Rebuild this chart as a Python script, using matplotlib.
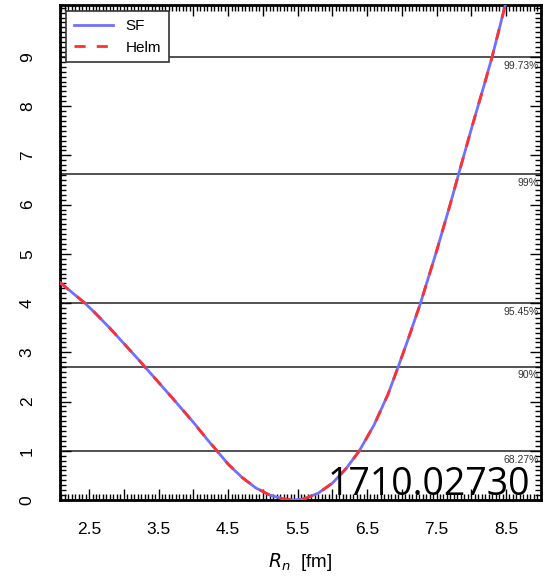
import matplotlib
matplotlib.use("Agg")
import matplotlib.pyplot as plt
from matplotlib.ticker import MultipleLocator, FixedLocator

plt.rcParams['font.family'] = ['Liberation Sans', 'DejaVu Sans']

# chi^2 curve
rn = [2.08, 2.2, 2.44, 2.6, 2.8, 3.0, 3.2, 3.3, 3.5, 3.7, 3.81, 4.0, 4.2, 4.34,
      4.5, 4.7, 4.9, 5.1, 5.3, 5.45, 5.6, 5.8, 6.0, 6.2, 6.39, 6.6, 6.8, 6.95,
      7.1, 7.27, 7.5, 7.7, 7.82, 8.0, 8.2, 8.3, 8.48, 8.6]
chi2_sf = [4.42, 4.28, 4.00, 3.78, 3.49, 3.18, 2.87, 2.71, 2.39, 2.07, 1.89, 1.58,
           1.23, 1.00, 0.73, 0.46, 0.245, 0.10, 0.02, 0.0, 0.025, 0.14, 0.34, 0.64,
           1.00, 1.52, 2.14, 2.71, 3.30, 4.00, 5.05, 6.02, 6.63, 7.53, 8.50, 9.00,
           10.0, 10.7]
chi2_helm = list(chi2_sf)

# confidence levels for 1 dof
levels = [1.0, 2.71, 4.0, 6.63, 9.0]
level_labels = ["68.27%", "90%", "95.45%", "99%", "99.73%"]

xtick_pos = [2.5 + 0.5 * i for i in range(14)]
xtick_lab = ["2.5", "", "3.5", "", "4.5", "", "5.5", "", "6.5", "", "7.5", "", "8.5", ""]
yticks = [0, 1, 2, 3, 4, 5, 6, 7, 8, 9]

fig = plt.figure(figsize=(5.49, 5.78), dpi=100)
ax = fig.add_axes([0.109, 0.135, 0.876, 0.856])

for lv, lab in zip(levels, level_labels):
    ax.axhline(lv, color="#333333", lw=1.2, zorder=1)
    ax.text(8.97, lv - 0.08, lab, ha="right", va="top", fontsize=7.5, color="#333333")

ax.plot(rn, chi2_sf, color="#7070ff", lw=2, label="SF", zorder=3)
ax.plot(rn, chi2_helm, color="#ff3030", lw=2, ls=(0, (4, 4)), label="Helm", zorder=4)

ax.set_xlim(2.08, 8.98)
ax.set_ylim(0, 10.05)

ax.set_xticks(xtick_pos)
ax.set_xticklabels(xtick_lab)
ax.xaxis.set_minor_locator(MultipleLocator(0.05))
ax.yaxis.set_major_locator(FixedLocator(yticks))
ax.yaxis.set_minor_locator(MultipleLocator(0.1))

ax.tick_params(which="both", direction="in", top=True, right=True, width=1)
ax.tick_params(which="major", length=8, labelsize=12.5)
ax.tick_params(axis="x", which="major", pad=16)
ax.tick_params(axis="y", which="major", pad=18)
ax.tick_params(which="minor", length=4)
for t in ax.get_yticklabels():
    t.set_rotation(90)
    t.set_va("center")
for s in ax.spines.values():
    s.set_linewidth(2)

ax.set_xlabel(r"$R_n$  [fm]", fontsize=13.5, labelpad=10)

leg = ax.legend(loc="upper left", fontsize=11, fancybox=False, edgecolor="#333333",
                framealpha=1, handlelength=2.6, borderaxespad=0.4, borderpad=0.5)
leg.get_frame().set_linewidth(1.2)

ax.text(8.85, 0.1, "1710.02730", ha="right", va="baseline", fontsize=27,
        family=["Open Sans", "DejaVu Sans"], color="black", zorder=6)

fig.savefig("out.png", dpi=100)
